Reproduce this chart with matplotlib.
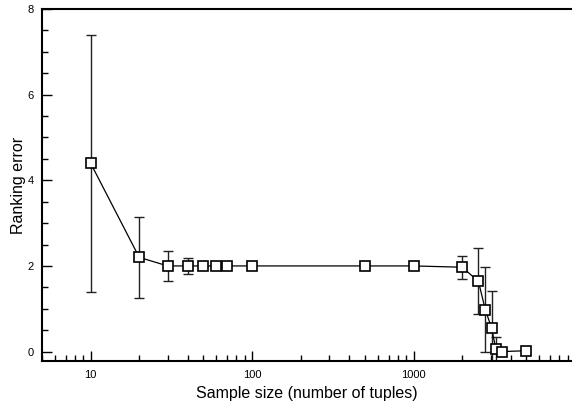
import numpy as np
import matplotlib
matplotlib.use("Agg")
import matplotlib.pyplot as plt
from matplotlib.ticker import LogLocator, FixedLocator, FixedFormatter, MultipleLocator, NullFormatter

plt.rcParams['font.family'] = ['Liberation Sans', 'DejaVu Sans']

# sample sizes and mean ranking error, with symmetric error bars
sample_size = [10, 20, 30, 40, 50, 60, 70, 100, 500, 1000, 2000, 2520, 2780, 3040, 3230, 3520, 5000]
rank_err = [4.4, 2.2, 2.0, 2.0, 2.0, 2.0, 2.0, 2.0, 2.0, 2.0, 1.97, 1.64, 0.98, 0.55, 0.06, 0.0, 0.02]
rank_sd = [3.0, 0.94, 0.35, 0.19, 0, 0, 0, 0, 0, 0, 0.27, 0.77, 1.0, 0.87, 0.28, 0, 0]

x = np.array(sample_size, dtype=float)
y = np.array(rank_err)
e = np.array(rank_sd)

fig = plt.figure(figsize=(5.72, 4.04), dpi=100)
ax = fig.add_axes([42/572, 43/404, 530/572, 352/404])

# error bars only where there is a spread
m = e > 0
ax.errorbar(x[m], y[m], yerr=e[m], fmt='none', ecolor='#222222', elinewidth=1.0,
            capsize=3.6, capthick=1.0, zorder=2)
ax.plot(x, y, color='black', linewidth=0.9, marker='s', markersize=6.6,
        markerfacecolor='white', markeredgecolor='black', markeredgewidth=1.2, zorder=3)

ax.set_xscale('log')
ax.set_xlim(5, 9570)
ax.set_ylim(-0.22, 8)

ax.xaxis.set_major_locator(FixedLocator([10, 100, 1000]))
ax.xaxis.set_major_formatter(FixedFormatter(['10', '100', '1000']))
ax.xaxis.set_minor_locator(LogLocator(base=10, subs=np.arange(2, 10)))
ax.xaxis.set_minor_formatter(NullFormatter())
ax.yaxis.set_major_locator(MultipleLocator(2))
ax.yaxis.set_minor_locator(MultipleLocator(0.5))

ax.tick_params(which='both', direction='in', top=False, right=False, labelsize=8, width=1.0)
ax.tick_params(which='major', length=7)
ax.tick_params(which='minor', length=4)
ax.tick_params(axis='x', pad=6.5)
ax.tick_params(axis='y', pad=6)

for s in ['left', 'bottom', 'top']:
    ax.spines[s].set_linewidth(1.5)
ax.spines['right'].set_visible(False)

ax.set_xlabel('Sample size (number of tuples)', fontsize=11.5, labelpad=4.5)
ax.set_ylabel('Ranking error', fontsize=11.5, labelpad=1)

fig.savefig('out.png', dpi=100)
